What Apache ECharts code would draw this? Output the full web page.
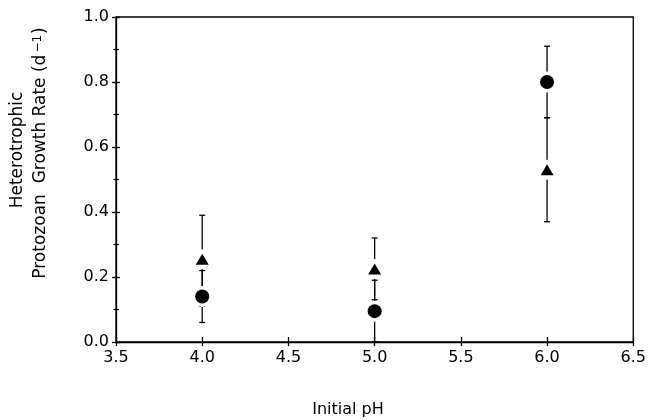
<!DOCTYPE html>
<html><head><meta charset="utf-8">
<script src="https://cdn.jsdelivr.net/npm/echarts@6/dist/echarts.min.js"></script>
<style>html,body{margin:0;padding:0;background:#fff}#c{width:649px;height:419px}</style>
</head><body><div id="c"></div>
<script>
// pH categories (x positions)
const phValues = [4.0, 5.0, 6.0];
// circles
const circleMean = [0.14, 0.095, 0.80];
const circleLow  = [0.06, 0.00, 0.69];
const circleHigh = [0.22, 0.19, 0.91];
// triangles
const triMean = [0.255, 0.225, 0.53];
const triLow  = [0.11, 0.13, 0.37];
const triHigh = [0.39, 0.32, 0.69];
// tick labels
const xTickLabels = ['3.5','4.0','4.5','5.0','5.5','6.0','6.5'];
const yTickLabels = ['0.0','0.2','0.4','0.6','0.8','1.0'];

const FONT = 'DejaVu Sans';
const AX = {color:'#000', width:1.3};

function pts(mean){ return phValues.map((x,i)=>[x, mean[i]]); }
function bars(lo, hi){ return phValues.map((x,i)=>[x, lo[i], hi[i]]); }

function errRender(params, api){
  const x = api.value(0), lo = api.value(1), hi = api.value(2);
  const a = api.coord([x, lo]), b = api.coord([x, hi]);
  const w = 3;
  const st = {stroke:'#000', lineWidth:1.3};
  return {type:'group', children:[
    {type:'line', shape:{x1:a[0], y1:a[1], x2:b[0], y2:b[1]}, style:st},
    {type:'line', shape:{x1:a[0]-w, y1:a[1], x2:a[0]+w, y2:a[1]}, style:st},
    {type:'line', shape:{x1:b[0]-w, y1:b[1], x2:b[0]+w, y2:b[1]}, style:st}
  ]};
}

function xAx(outer){
  return {
    type:'value', min:3.5, max:6.5, interval:0.5, position:'bottom',
    axisLine:{show:outer, lineStyle:AX},
    axisTick:{show:true, inside:!outer, length: outer?4:5, lineStyle:AX},
    axisLabel:{show:outer, margin:8, color:'#000', fontSize:16, fontFamily:FONT,
      formatter:(v,i)=>xTickLabels[i]},
    splitLine:{show:false}
  };
}
function yAx(outer){
  return {
    type:'value', min:0, max:1, interval:0.2, position:'left',
    axisLine:{show:outer, lineStyle:AX},
    axisTick:{show:true, inside:!outer, length: 4, lineStyle:AX},
    minorTick:{show:true, splitNumber:2, length: outer?2.5:3, lineStyle:{color:'#000', width:1.2}},
    axisLabel:{show:outer, margin:7, color:'#000', fontSize:16, fontFamily:FONT,
      formatter:(v,i)=>yTickLabels[i]},
    splitLine:{show:false}, minorSplitLine:{show:false}
  };
}

const chart = echarts.init(document.getElementById('c'), null, {renderer:'canvas'});
chart.setOption({
  animation:false,
  backgroundColor:'#fff',
  grid:{left:116, right:13, top:17, bottom:77, show:true, borderColor:'#000', borderWidth:1.3, backgroundColor:'transparent'},
  xAxis:[xAx(true), xAx(false)],
  yAxis:[yAx(true), yAx(false)],
  series:[
    {type:'custom', renderItem:errRender, data:bars(circleLow, circleHigh), z:1, silent:true},
    {type:'custom', renderItem:errRender, data:bars(triLow, triHigh), z:1, silent:true},
    {type:'scatter', data:pts(circleMean), symbol:'circle', symbolSize:21, itemStyle:{color:'#fff', opacity:1}, z:2, silent:true},
    {type:'scatter', data:pts(triMean), symbol:'circle', symbolSize:20, itemStyle:{color:'#fff', opacity:1}, z:2, silent:true},
    {type:'scatter', data:pts(circleMean), symbol:'circle', symbolSize:14, itemStyle:{color:'#000', opacity:1}, z:3, silent:true},
    {type:'scatter', data:pts(triMean), symbol:'triangle', symbolSize:[13,11], itemStyle:{color:'#000', opacity:1}, z:3, silent:true}
  ],
  graphic:[
    {type:'text', x:18, y:150, rotation:Math.PI/2,
      style:{text:'Heterotrophic', x:0, y:0, align:'center', verticalAlign:'middle', fill:'#000', fontSize:17, fontFamily:FONT}},
    {type:'text', x:40.5, y:153, rotation:Math.PI/2,
      style:{text:'{n|Protozoan  Growth Rate (d}{sup|\u22121}{n|)}', x:0, y:0, align:'center', verticalAlign:'middle', fill:'#000', fontSize:17, fontFamily:FONT,
        rich:{
          n:{fontSize:17, fontFamily:FONT, fill:'#000', lineHeight:17, verticalAlign:'bottom'},
          sup:{fontSize:12, fontFamily:FONT, fill:'#000', lineHeight:12, verticalAlign:'top', padding:[0,1,10,2]}
        }}},
    {type:'text', x:348, y:410,
      style:{text:'Initial pH', x:0, y:0, align:'center', verticalAlign:'middle', fill:'#000', fontSize:16, fontFamily:FONT}}
  ]
});
</script></body></html>
